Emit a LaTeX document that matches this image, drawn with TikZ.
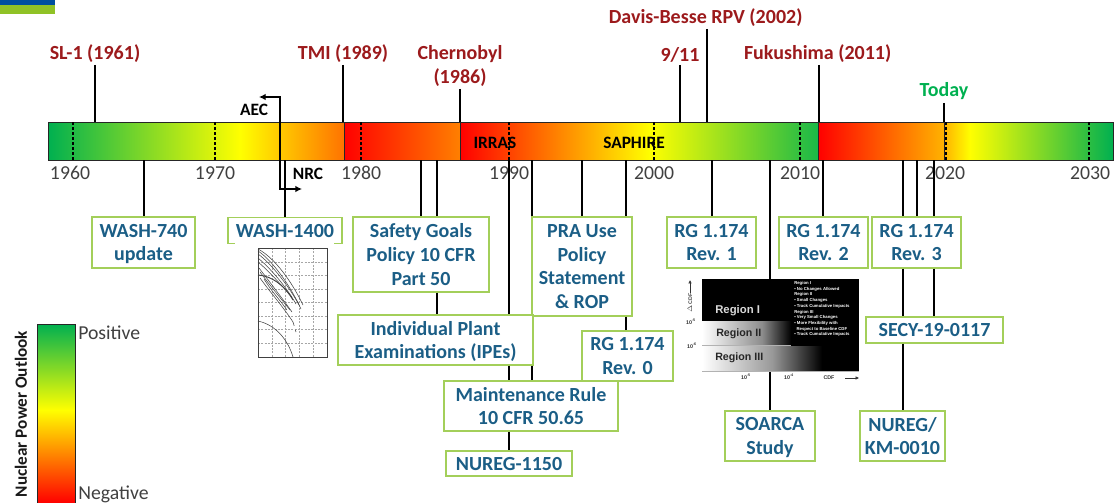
\documentclass[tikz,border=0pt]{standalone}
\usepackage{fontspec}
\setmainfont{Carlito}
\newfontfamily\chartfont{Liberation Sans}
\usepackage{tikz}
\usetikzlibrary{positioning}
\usetikzlibrary{arrows.meta}
\definecolor{eventred}{HTML}{9C1A1C}
\definecolor{todaygreen}{HTML}{00B050}
\definecolor{boxblue}{HTML}{1B5E86}
\definecolor{boxgreen}{HTML}{A3CF5A}
\definecolor{yeargray}{HTML}{404040}
\definecolor{topblue}{HTML}{004F9F}
\definecolor{topgreen}{HTML}{90C226}

\begin{document}
\begin{tikzpicture}[x=0.75pt, y=-0.75pt,
    stem/.style={line width=2.2pt, black},
    tickdots/.style={line width=1.6pt, black, dash pattern=on 1.9pt off 1.9pt},
    event/.style={font=\fontsize{15}{18}\selectfont\bfseries, text=eventred, align=center, inner sep=0pt},
    year/.style={font=\fontsize{14.8}{17}\selectfont, text=yeargray, inner sep=0pt},
    docbox/.style 2 args={draw=boxgreen, fill=white, line width=1pt, inner sep=0pt, align=center, text=boxblue, text depth=0pt,
        font=\fontsize{15}{17.8}\selectfont\bfseries, minimum width=#1*0.75pt, minimum height=#2*0.75pt},
    tinybold/.style={font=\fontsize{13}{15}\selectfont\bfseries, inner sep=0pt, text=black},
    charttext/.style={font=\chartfont\bfseries\fontsize{3.2}{4.3}\selectfont, inner sep=0pt},
    chartaxis/.style={font=\chartfont\bfseries\fontsize{4}{5}\selectfont, inner sep=0pt, text=black!80},
    plotgrid/.style={gray!70, line width=0.35pt, dash pattern=on 1.5pt off 1pt},
    plotcurve/.style={black!75, line width=0.4pt}]

    \useasboundingbox (0,0) rectangle (1114,503);

    \fill [topblue] (0,0) rectangle (55,5);
    \fill [topgreen] (0,5) rectangle (55,14);

    \shade [left color=todaygreen, right color=yellow] (48,122) rectangle (240,160);
    \shade [left color=yellow, right color=orange!90!red] (240,122) rectangle (344,160);
    \shade [left color=red, right color=orange] (344,122) rectangle (460,160);
    \shade [left color=red, right color=yellow] (460,122) rectangle (650,160);
    \shade [left color=yellow, right color=todaygreen!90!yellow] (650,122) rectangle (818,160);
    \shade [left color=red, right color=orange!60!yellow] (818,122) rectangle (944,160);
    \shade [left color=orange!60!yellow, right color=yellow] (944,122) rectangle (970,160);
    \shade [left color=yellow, right color=todaygreen] (970,122) rectangle (1113,160);
    \node [draw=black!85, line width=0.7pt, inner sep=0pt, minimum width=1065*0.75pt, minimum height=38*0.75pt] (bar) at (580.5,141) {};
    \draw [black!85, line width=0.7pt] (344,122) -- (344,160) (460,122) -- (460,160) (818,122) -- (818,160) (944,122) -- (944,160);

    \draw [tickdots] (73,122) -- (73,160);
    \draw [tickdots] (215,122) -- (215,160);
    \draw [tickdots] (361,122) -- (361,160);
    \draw [tickdots] (509,122) -- (509,160);
    \draw [tickdots] (654,122) -- (654,160);
    \draw [tickdots] (800,122) -- (800,160);
    \draw [tickdots] (946,122) -- (946,160);
    \draw [tickdots] (1089,122) -- (1089,160);

    \node [tinybold] (irras) at (495,143) {IRRAS};
    \node [tinybold] (saphire) at (634,143) {SAPHIRE};

    \node [year] (y1960) at (70,173) {1960};
    \node [year] (y1970) at (215,173) {1970};
    \node [year] (y1980) at (361,173) {1980};
    \node [year] (y1990) at (509,173) {1990};
    \node [year] (y2000) at (654,173) {2000};
    \node [year] (y2010) at (800,173) {2010};
    \node [year] (y2020) at (945,173) {2020};
    \node [year] (y2030) at (1090,173) {2030};

    \coordinate (sl) at (95,65);
    \coordinate (tmi) at (343,65);
    \coordinate (cher) at (460,89);
    \coordinate (nine) at (680,65);
    \coordinate (davis) at (707,29);
    \coordinate (fuku) at (819,65);
    \coordinate (today) at (944,103);

    \node [event, above=1.6pt of sl] (sllab) {SL-1 (1961)};
    \node [event, above=1.6pt of tmi] (tmilab) {TMI (1989)};
    \node [event, above=1.6pt of cher] (cherlab) {Chernobyl\\(1986)};
    \node [event, above=1.6pt of nine] (ninelab) {9/11};
    \node [event, above=1.6pt of davis, xshift=-1pt] (davislab) {Davis-Besse RPV (2002)};
    \node [event, above=1.6pt of fuku, xshift=-1pt] (fukulab) {Fukushima (2011)};
    \node [event, above=2.2pt of today, text=todaygreen] (todaylab) {Today};

    \draw [stem] (sl) -- (sl |- bar.north);
    \draw [stem] (tmi) -- (tmi |- bar.north);
    \draw [stem] (cher) -- (cher |- bar.north);
    \draw [stem] (nine) -- (nine |- bar.north);
    \draw [stem] (davis) -- (davis |- bar.north);
    \draw [stem] (fuku) -- (fuku |- bar.north);
    \draw [stem] (today) -- (today |- bar.north);

    \node [tinybold] (aec) at (254,110) {AEC};
    \node [tinybold] (nrc) at (308,174) {NRC};
    \coordinate (aecend) at (259,97);
    \coordinate (aecturn) at (280,97);
    \coordinate (nrcturn) at (280,189);
    \coordinate (nrcend) at (302,189);
    \draw [{Latex[length=5pt,width=5pt]}-{Latex[length=5pt,width=5pt]}, line width=1pt] (aecend) -- (aecturn) -- (nrcturn) -- (nrcend);

    \node [docbox={103}{51}] (wash740) at (143.5,242.5) {WASH-740\\update};
    \node [docbox={114}{26}] (wash1400) at (285,230.5) {WASH-1400};
    \node [docbox={136}{75}] (safety) at (421,254.5) {Safety Goals\\Policy 10 CFR\\Part 50};
    \node [docbox={100}{99}] (prause) at (582,266.5) {PRA Use\\Policy\\Statement\\\& ROP};
    \node [docbox={91}{50}] (rg0) at (627.5,356) {RG 1.174\\Rev. 0};
    \node [docbox={89}{51}] (rg1) at (711.5,242.5) {RG 1.174\\Rev. 1};
    \node [docbox={89}{51}] (rg2) at (823.5,242.5) {RG 1.174\\Rev. 2};
    \node [docbox={89}{51}] (rg3) at (916.5,242.5) {RG 1.174\\Rev. 3};
    \node [docbox={137}{26}] (secy) at (934.5,330) {SECY-19-0117};
    \node [docbox={195}{50}] (ipe) at (435.5,340) {Individual Plant\\Examinations (IPEs)};
    \node [docbox={174}{50}] (maint) at (531,406) {Maintenance Rule\\10 CFR 50.65};
    \node [docbox={126}{25}] (nureg1150) at (509,463.5) {NUREG-1150};
    \node [docbox={90}{50}] (soarca) at (770,436) {SOARCA\\Study};
    \node [docbox={85}{50}] (km) at (902.5,436) {NUREG/\\KM-0010};

    \coordinate (c740) at (144,160);
    \coordinate (c1400) at (285,160);
    \coordinate (csafety) at (421,160);
    \coordinate (cipe) at (437,160);
    \coordinate (c1150) at (509,160);
    \coordinate (cmaint) at (532,160);
    \coordinate (cpra) at (582,160);
    \coordinate (crg0) at (626,160);
    \coordinate (crg1) at (712,160);
    \coordinate (csoarca) at (770,160);
    \coordinate (crg2) at (823,160);
    \coordinate (ckm) at (903,160);
    \coordinate (crg3) at (917,160);
    \coordinate (csecy) at (934,160);

    \draw [stem] (c740) -- (c740 |- wash740.north);
    \draw [stem] (c1400) -- (c1400 |- wash1400.north);
    \draw [stem] (csafety) -- (csafety |- safety.north);
    \draw [stem] (cipe) -- (cipe |- safety.north) (cipe |- safety.south) -- (cipe |- ipe.north);
    \draw [stem] (c1150) -- (c1150 |- ipe.north) (c1150 |- ipe.south) -- (c1150 |- maint.north) (c1150 |- maint.south) -- (c1150 |- nureg1150.north);
    \draw [stem] (cmaint) -- (cmaint |- prause.north) (cmaint |- ipe.south) -- (cmaint |- maint.north);
    \draw [stem] (cpra) -- (cpra |- prause.north);
    \draw [stem] (crg0) -- (crg0 |- prause.north) (crg0 |- prause.south) -- (crg0 |- rg0.north);
    \draw [stem] (crg1) -- (crg1 |- rg1.north);
    \draw [stem] (csoarca) -- (csoarca |- soarca.north);
    \draw [stem] (crg2) -- (crg2 |- rg2.north);
    \draw [stem] (ckm) -- (ckm |- rg3.north) (ckm |- rg3.south) -- (ckm |- secy.north) (ckm |- secy.south) -- (ckm |- km.north);
    \draw [stem] (crg3) -- (crg3 |- rg3.north);
    \draw [stem] (csecy) -- (csecy |- rg3.north) (csecy |- rg3.south) -- (csecy |- secy.north);

    \fill [white] (235,240) rectangle (334,246);
    \draw [plotgrid] (272,248) -- (272,357) (285.5,248) -- (285.5,357) (299,248) -- (299,357) (313,248) -- (313,357);
    \draw [plotgrid] (258,262) -- (327,262) (258,275) -- (327,275) (258,289) -- (327,289) (258,302) -- (327,302) (258,316) -- (327,316) (258,329) -- (327,329) (258,343) -- (327,343);
    \draw [black!75, line width=0.5pt] (258,248) -- (258,357) -- (327,357) -- (327,248) -- cycle;
    \draw [plotcurve] (258,249) .. controls (275,258) and (292,282) .. (303,305);
    \draw [plotcurve] (258,251) .. controls (272,260) and (290,285) .. (301,309);
    \draw [plotcurve] (258,254) .. controls (272,264) and (290,288) .. (299,305);
    \draw [plotcurve] (258,258) .. controls (270,268) and (285,285) .. (296,304);
    \draw [plotcurve] (258,262) .. controls (270,272) and (282,286) .. (292,297);
    \draw [plotcurve, line width=0.7pt] (258,275) .. controls (272,276) and (284,285) .. (293,300);
    \draw [plotcurve] (259,268) .. controls (272,285) and (282,298) .. (292,312);
    \draw [plotcurve] (260,272) .. controls (272,288) and (282,300) .. (290,310);
    \draw [plotcurve] (260,278) .. controls (270,292) and (284,308) .. (293,322);
    \draw [plotcurve] (264,279) .. controls (272,292) and (280,300) .. (287,310);
    \draw [plotcurve, dashed] (293,322) -- (296,332);
    \draw [plotcurve] (258,321) .. controls (276,325) and (288,340) .. (293,357);

    \fill [black] (702,279) rectangle (859,371);
    \shade [left color=white, right color=black!45] (702,321) rectangle (762,345);
    \shade [left color=black!45, right color=black] (762,321) rectangle (791,345);
    \shade [left color=white, right color=black!40] (702,346) rectangle (772,370);
    \shade [left color=black!40, right color=black] (772,346) rectangle (822,370);
    \draw [gray!60, line width=0.5pt] (702,345.5) -- (791,345.5) (702,371) -- (859,371);
    \node [font=\chartfont\bfseries\fontsize{8.5}{10}\selectfont, text=black!15, inner sep=0pt, anchor=west] (regi) at (715,311) {Region I};
    \node [font=\chartfont\bfseries\fontsize{8}{10}\selectfont, text=black!85, inner sep=0pt, anchor=west] (regii) at (716,334) {Region II};
    \node [font=\chartfont\bfseries\fontsize{8}{10}\selectfont, text=black!85, inner sep=0pt, anchor=west] (regiii) at (715,358) {Region III};
    \node [charttext, text=white, align=left, anchor=north west] (regnotes) at (794,281) {Region I\\{\textbullet} No Changes Allowed\\Region II\\{\textbullet} Small Changes\\{\textbullet} Track Cumulative Impacts\\Region III\\{\textbullet} Very Small Changes\\{\textbullet} More Flexibility with\\\ \ Respect to Baseline CDF\\{\textbullet} Track Cumulative Impacts};
    \node [chartaxis, rotate=90, text=black!70] (dcdf) at (690,303) {$\Delta$ CDF};
    \node [chartaxis] (ya) at (691,322) {10\textsuperscript{-5}};
    \node [chartaxis] (yb) at (692,346) {10\textsuperscript{-6}};
    \node [chartaxis] (xa) at (746,377) {10\textsuperscript{-5}};
    \node [chartaxis] (xb) at (789,377) {10\textsuperscript{-4}};
    \node [chartaxis] (xc) at (829,378) {CDF};
    \coordinate (dcdfend) at (690,280);
    \coordinate (xcstart) at (845,378);
    \coordinate (xcend) at (859,378);
    \draw [-{Latex[length=2.5pt,width=2.5pt]}, black!80, line width=0.4pt] (dcdf.east) -- (dcdfend);
    \draw [-{Latex[length=2.5pt,width=2.5pt]}, black!80, line width=0.4pt] (xcstart) -- (xcend);

    \shade [top color=todaygreen, bottom color=yellow] (37,324) rectangle (75,410);
    \shade [top color=yellow, bottom color=red] (37,410) rectangle (75,503);
    \draw [black!85, line width=0.7pt] (37,503) -- (37,324) -- (75,324) -- (75,503);
    \node [year, anchor=west] (pos) at (78,333) {Positive};
    \node [year, anchor=west] (neg) at (78,494) {Negative};
    \node [font=\fontsize{12.9}{15}\selectfont\bfseries, inner sep=0pt, rotate=90, text=black!90] (outlook) at (21,414) {Nuclear Power Outlook};
\end{tikzpicture}
\end{document}
